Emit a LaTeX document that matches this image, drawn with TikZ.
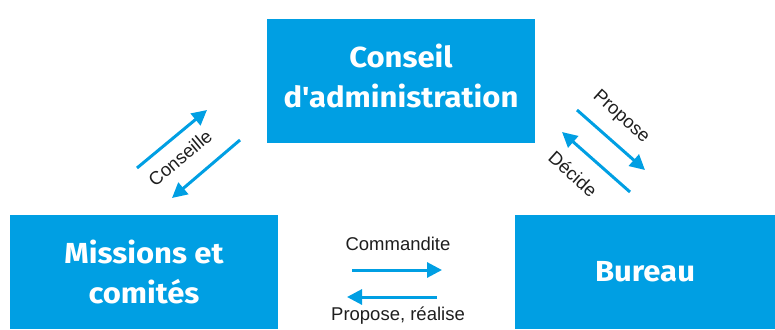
\documentclass[tikz,border=0pt]{standalone}
\usepackage{fontspec}
\setmainfont{Liberation Sans}
\newfontfamily\boxfont{Fira Sans}[FakeStretch=1.07]
\usepackage{xcolor}
\usepackage{tikz}
\usetikzlibrary{positioning,arrows.meta}

\definecolor{boxblue}{HTML}{009FE3}
\definecolor{labelgrey}{HTML}{1E1E1E}

\tikzset{
  bluebox/.style={rectangle, fill=boxblue, inner sep=0pt},
  boxtext/.style={text=white, align=center, inner sep=0pt,
    font=\boxfont\bfseries\fontsize{29}{40}\selectfont},
  flow/.style={draw=boxblue, line width=3pt, -{Triangle[length=15pt,width=15pt]}},
  flowlabel/.style={text=labelgrey, inner sep=0pt, font=\fontsize{18.5}{22}\selectfont}
}

\begin{document}
\begin{tikzpicture}[x=1pt, y=-1pt]
    \useasboundingbox (0,0) rectangle (775,329);

    % Boxes
    \node [bluebox, minimum width=268pt, minimum height=124pt] (conseil) at (401,81) {};
    \node [bluebox, minimum width=268pt, minimum height=114pt] (missions) at (144,272) {};
    \node [bluebox, minimum width=260pt, minimum height=114pt] (bureau) at (645,272) {};

    \node [boxtext, yshift=5pt] (conseiltext) at (conseil.center) {Conseil\\d'administration};
    \node [boxtext] (missionstext) at (missions.center) {Missions et\\comités};
    \node [boxtext] (bureautext) at (bureau.center) {Bureau};

    % Arrow ends
    \coordinate (conseilleA) at (137,168);
    \coordinate (conseilleB) at (207,110);
    \coordinate (conseilleC) at (240,140);
    \coordinate (conseilleD) at (172,198);
    \coordinate (proposeA) at (577,110);
    \coordinate (proposeB) at (645,170);
    \coordinate (decideA) at (630,192);
    \coordinate (decideB) at (562,132);
    \coordinate (commA) at (352,270);
    \coordinate (commB) at (442,270);
    \coordinate (realA) at (437,297);
    \coordinate (realB) at (347,297);

    % Arrows
    \draw [flow] (conseilleA) -- (conseilleB);
    \draw [flow] (conseilleC) -- (conseilleD);
    \draw [flow] (proposeA) -- (proposeB);
    \draw [flow] (decideA) -- (decideB);
    \draw [flow] (commA) -- (commB);
    \draw [flow] (realA) -- (realB);

    % Labels
    \node [flowlabel, rotate=40] (conseille) at (180,158) {Conseille};
    \node [flowlabel, rotate=-42] (propose) at (621,117) {Propose};
    \node [flowlabel, rotate=-42] (decide) at (573,174) {Décide};
    \node [flowlabel] (commandite) at (398,244) {Commandite};
    \node [flowlabel] (realise) at (398,316) {Propose, réalise};
\end{tikzpicture}
\end{document}
